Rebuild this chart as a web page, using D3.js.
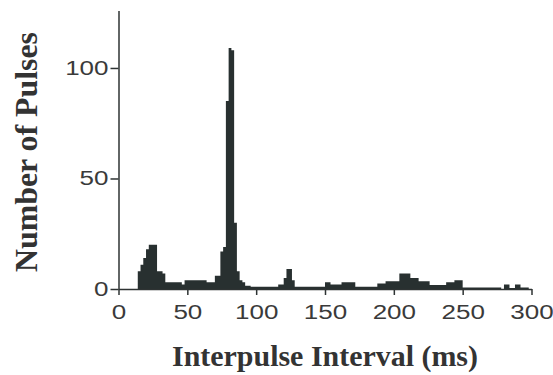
<!DOCTYPE html>
<html>
<head>
<meta charset="utf-8">
<script src="https://cdn.jsdelivr.net/npm/d3@7/dist/d3.min.js"></script>
<style>
  html, body { margin: 0; padding: 0; background: #fff; }
  svg { display: block; }
</style>
</head>
<body>
<svg id="chart" width="553" height="375"></svg>
<script>
// Histogram bins: left edge (ms), bin width 2 ms
const binWidth = 2;
const binStarts = [
  14,16,18,20,22,24,26,28,30,32,34,36,38,40,42,44,46,48,50,52,54,56,58,60,62,64,66,68,
  70,72,74,76,78,80,82,84,86,88,90,92,94,96,98,100,102,104,106,108,110,112,114,116,118,
  120,122,124,126,128,130,132,134,136,138,140,142,144,146,148,150,152,154,156,158,160,
  162,164,166,168,170,172,174,176,178,180,182,184,186,188,190,192,194,196,198,200,202,
  204,206,208,210,212,214,216,218,220,222,224,226,228,230,232,234,236,238,240,242,244,
  246,248,250,252,254,256,258,260,262,264,266,268,270,272,274,276,278,280,282,284,286,
  288,290,292,294,296
];
const counts = [
  8,11,14,18,20,20,20,8,8,7,3,3,3,3,3,3,2,4,4,4,4,4,4,4,4,3,3,3,
  6,6,17,19,85,109,108,30,8,4,3,1.5,1.5,1,1,1,1,1,1,1,1,1,1,2,2,
  5,9,9,4,1,1,1,1,1,1,1,1,1,1,1,3,3,2,2,2,2,
  3,3,3,3,3,1,1,1,1,1,1,1,1,2.5,2.5,2.5,3.5,3.5,3.5,3.5,3.5,
  7,7,7,7,5,5,5,3.5,3.5,3.5,3.5,1.8,1.8,1.8,1.8,1.8,1.8,3,3,3,4,
  4,4,0.7,0.7,0.7,0.7,0.7,0.7,0.7,0.7,0.7,0.7,0.7,0.7,0.7,0.7,0,2,2,0.5,0.5,
  2,2,0.7,0.7,0.7
];
const xTicks = [0, 50, 100, 150, 200, 250, 300];
const yTicks = [0, 50, 100];
const xTitle = "Interpulse Interval (ms)";
const yTitle = "Number of Pulses";

// step points: each bin start, plus closing point at the last bin's end
const steps = binStarts.map((s, i) => ({ x: s, n: counts[i] }));
steps.push({ x: binStarts[binStarts.length - 1] + binWidth, n: 0 });

const svg = d3.select("#chart");
const x = d3.scaleLinear().domain([0, 300]).range([118.5, 531.5]);
const y = d3.scaleLinear().domain([0, 126]).range([289, 10.5]);

const ink = "#2e3333";
const barFill = "#283030";

// histogram as one stepped area (no gaps between bins)
const area = d3.area()
  .curve(d3.curveStepAfter)
  .x(d => x(d.x))
  .y0(y(0))
  .y1(d => y(d.n));
svg.append("path")
  .datum(steps)
  .attr("d", area)
  .attr("fill", barFill);

function stretch(sel, k) {
  sel.each(function () {
    const w = this.getComputedTextLength();
    d3.select(this).attr("textLength", w * k).attr("lengthAdjust", "spacingAndGlyphs");
  });
}

// x axis
const gx = svg.append("g")
  .attr("transform", `translate(0,${y(0)})`)
  .call(d3.axisBottom(x).tickValues(xTicks).tickSize(6).tickSizeOuter(0).tickPadding(10));
gx.select(".domain").attr("stroke", ink).attr("stroke-width", 1.5);
gx.selectAll(".tick line").attr("stroke", ink).attr("stroke-width", 1.5);
gx.selectAll(".tick text")
  .attr("fill", "#3a3a3a")
  .style("font-family", "'Liberation Sans', Arial, sans-serif")
  .style("font-size", "20px");
stretch(gx.selectAll(".tick text"), 1.3);

// y axis
const gy = svg.append("g")
  .attr("transform", `translate(${x(0)},0)`)
  .call(d3.axisLeft(y).tickValues(yTicks).tickSize(8).tickSizeOuter(0).tickPadding(2));
gy.select(".domain").attr("stroke", ink).attr("stroke-width", 1.5);
gy.selectAll(".tick line").attr("stroke", ink).attr("stroke-width", 1.5);
gy.selectAll(".tick text")
  .attr("fill", "#3a3a3a")
  .style("font-family", "'Liberation Sans', Arial, sans-serif")
  .style("font-size", "20px");
stretch(gy.selectAll(".tick text"), 1.3);

// titles
svg.append("text")
  .attr("x", 325)
  .attr("y", 366)
  .attr("text-anchor", "middle")
  .attr("fill", "#333")
  .style("font-family", "'Liberation Serif', 'Times New Roman', serif")
  .style("font-weight", "bold")
  .style("font-size", "29px")
  .attr("textLength", 306)
  .attr("lengthAdjust", "spacingAndGlyphs")
  .text(xTitle);

svg.append("text")
  .attr("transform", "translate(37,152) rotate(-90)")
  .attr("text-anchor", "middle")
  .attr("fill", "#333")
  .style("font-family", "'Liberation Serif', 'Times New Roman', serif")
  .style("font-weight", "bold")
  .style("font-size", "31px")
  .attr("textLength", 240)
  .attr("lengthAdjust", "spacingAndGlyphs")
  .text(yTitle);
</script>
</body>
</html>
